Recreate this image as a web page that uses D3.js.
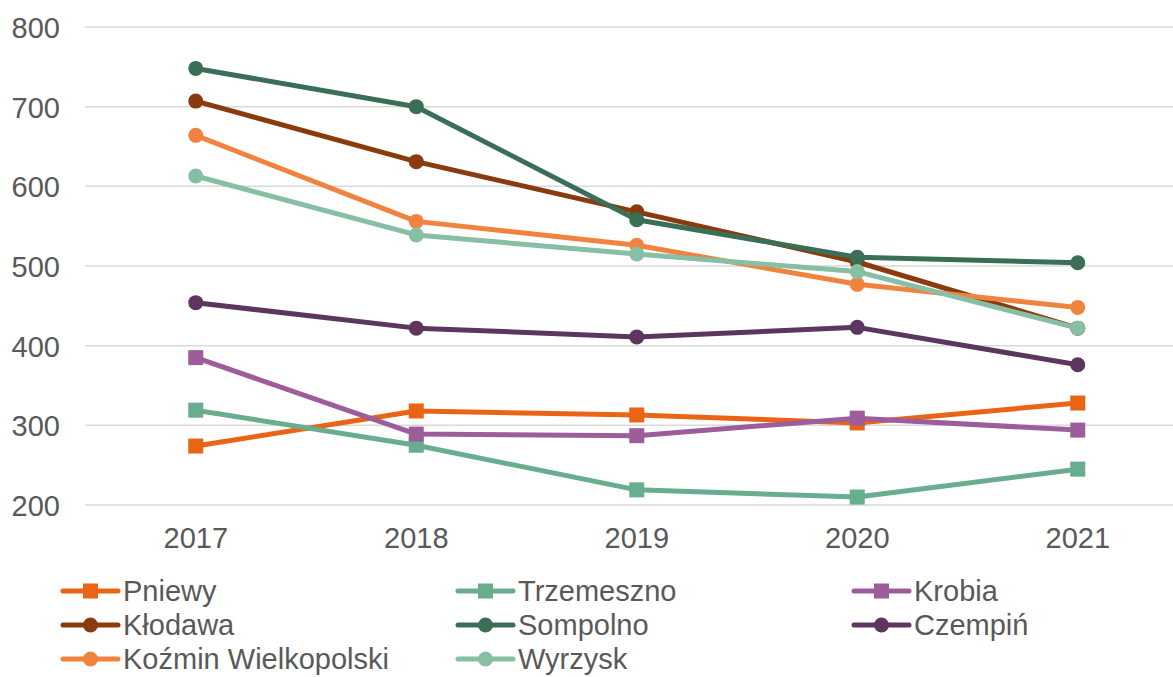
<!DOCTYPE html>
<html>
<head>
<meta charset="utf-8">
<script src="https://cdn.jsdelivr.net/npm/d3@7"></script>
<style>
  html, body { margin: 0; padding: 0; background: #fff; }
  svg { display: block; font-family: "Liberation Sans", Arial, sans-serif; }
</style>
</head>
<body>
<svg id="chart" width="1173" height="677"></svg>
<script>
// Years on the horizontal axis
const years = ["2017", "2018", "2019", "2020", "2021"];

// One value array per municipality
const pniewy     = [274, 318, 313, 303, 328];
const trzemeszno = [319, 275, 219, 210, 245];
const krobia     = [385, 289, 287, 309, 294];
const klodawa    = [707, 631, 568, 505, 422];
const sompolno   = [748, 700, 558, 511, 504];
const czempin    = [454, 422, 411, 423, 376];
const kozmin     = [664, 556, 526, 477, 448];
const wyrzysk    = [613, 539, 515, 493, 422];

const yTicks = [200, 300, 400, 500, 600, 700, 800];

const series = [
  { name: "Pniewy",              values: pniewy,     color: "#ea6415", shape: "square" },
  { name: "Trzemeszno",          values: trzemeszno, color: "#68ad8e", shape: "square" },
  { name: "Krobia",              values: krobia,     color: "#9d5d9b", shape: "square" },
  { name: "Kłodawa",             values: klodawa,    color: "#8a3b0e", shape: "circle" },
  { name: "Sompolno",            values: sompolno,   color: "#3b6e56", shape: "circle" },
  { name: "Czempiń",             values: czempin,    color: "#5d3660", shape: "circle" },
  { name: "Koźmin Wielkopolski", values: kozmin,     color: "#f0843f", shape: "circle" },
  { name: "Wyrzysk",             values: wyrzysk,    color: "#86bfa4", shape: "circle" }
];

const svg = d3.select("#chart");
const textColor = "#595959";
const fontSize = 29;

const x = d3.scaleBand().domain(years).range([85.5, 1188]).paddingInner(0).paddingOuter(0);
const xc = d => x(d) + x.bandwidth() / 2;
const y = d3.scaleLinear().domain([200, 800]).range([505, 27]);

// Horizontal gridlines
svg.append("g")
  .selectAll("line")
  .data(yTicks)
  .join("line")
  .attr("x1", 85).attr("x2", 1173)
  .attr("y1", d => y(d)).attr("y2", d => y(d))
  .attr("stroke", "#d9d9d9")
  .attr("stroke-width", 1.5);

// Y axis labels
const yAxis = d3.axisLeft(y).tickValues(yTicks).tickSize(0).tickPadding(0);
svg.append("g")
  .attr("transform", "translate(60,0)")
  .call(yAxis)
  .call(g => g.select(".domain").remove())
  .call(g => g.selectAll("text")
    .attr("fill", textColor)
    .attr("font-size", fontSize)
    .attr("font-family", "Liberation Sans, Arial, sans-serif")
    .attr("dy", "0.36em"));

// X axis labels
const xAxis = d3.axisBottom(x).tickSize(0).tickPadding(0);
svg.append("g")
  .attr("transform", "translate(0,527)")
  .call(xAxis)
  .call(g => g.select(".domain").remove())
  .call(g => g.selectAll("text")
    .attr("fill", textColor)
    .attr("font-size", fontSize)
    .attr("font-family", "Liberation Sans, Arial, sans-serif")
    .attr("dy", "0.73em"));

const line = d3.line()
  .x((d, i) => xc(years[i]))
  .y(d => y(d));

function drawMarker(g, shape, color, cx, cy) {
  if (shape === "square") {
    g.append("rect")
      .attr("x", cx - 7.5).attr("y", cy - 7.5)
      .attr("width", 15).attr("height", 15)
      .attr("fill", color);
  } else {
    g.append("circle")
      .attr("cx", cx).attr("cy", cy)
      .attr("r", 7.5)
      .attr("fill", color);
  }
}

// Lines with markers, in series order
series.forEach(s => {
  const g = svg.append("g");
  g.append("path")
    .datum(s.values)
    .attr("d", line)
    .attr("fill", "none")
    .attr("stroke", s.color)
    .attr("stroke-width", 5)
    .attr("stroke-linejoin", "round")
    .attr("stroke-linecap", "round");
  s.values.forEach((v, i) => drawMarker(g, s.shape, s.color, xc(years[i]), y(v)));
});

// Legend: three columns, filled row by row
const legendCols = [63, 458, 854];
const legendRows = [591, 625, 659];
series.forEach((s, i) => {
  const lx = legendCols[i % 3];
  const ly = legendRows[Math.floor(i / 3)];
  const g = svg.append("g");
  g.append("line")
    .attr("x1", lx).attr("x2", lx + 55)
    .attr("y1", ly).attr("y2", ly)
    .attr("stroke", s.color)
    .attr("stroke-width", 5)
    .attr("stroke-linecap", "round");
  drawMarker(g, s.shape, s.color, lx + 27.5, ly);
  g.append("text")
    .attr("x", lx + 60)
    .attr("y", ly)
    .attr("dy", "0.36em")
    .attr("fill", textColor)
    .attr("font-size", fontSize)
    .text(s.name);
});
</script>
</body>
</html>
